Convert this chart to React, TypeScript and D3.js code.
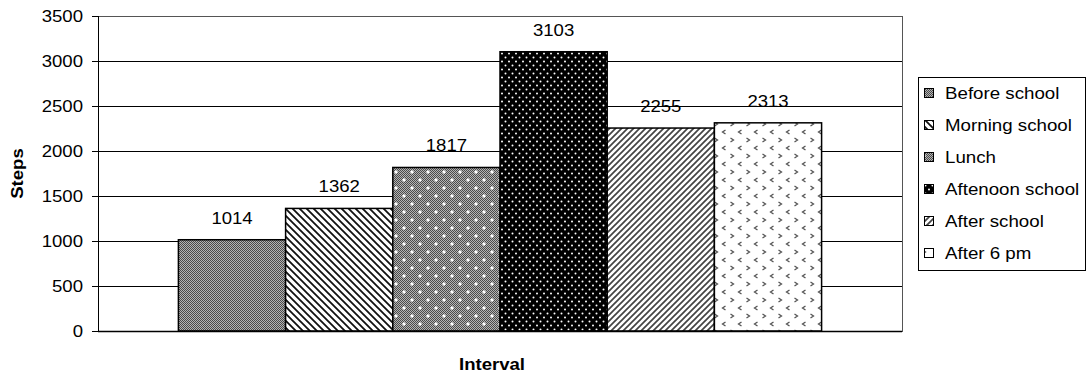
import React from "react";
import * as d3 from "d3";

const seriesNames = ["Before school", "Morning school", "Lunch", "Aftenoon school", "After school", "After 6 pm"];
const seriesValues = [1014, 1362, 1817, 3103, 2255, 2313];
const categories = ["Interval"];
const yTicks = [0, 500, 1000, 1500, 2000, 2500, 3000, 3500];
const patternIds = ["pBefore", "pMorning", "pLunch", "pAfternoon", "pAfter", "p6pm"];

const W = 1091;
const H = 379;
const plot = { left: 98, right: 902, top: 16, bottom: 331 };
const FONT = "'Liberation Sans', Arial, sans-serif";
const SX = 1.16;

export default function App() {
  const y = d3.scaleLinear().domain([0, 3500]).range([plot.bottom, plot.top]);
  const xCat = d3.scaleBand().domain(categories).range([plot.left, plot.right]).paddingOuter(0.125).paddingInner(0);
  const xSer = d3.scaleBand().domain(seriesNames).range([0, xCat.bandwidth()]).padding(0);
  const cat = categories[0];

  const chevron = (cx: number, cy: number, dir: number) =>
    `M${cx + dir * 1.5},${cy - 2} L${cx - dir * 1.5},${cy} L${cx + dir * 1.5},${cy + 2}`;

  return (
    <svg width={W} height={H} style={{ position: "absolute", left: 0, top: 0, fontFamily: FONT }}>
      <defs>
        <pattern id="pBefore" width={2} height={2} patternUnits="userSpaceOnUse">
          <rect width={2} height={2} fill="#b4b4b4" />
          <rect x={0} y={0} width={1} height={1} fill="#4a4a4a" />
          <rect x={1} y={1} width={1} height={1} fill="#4a4a4a" />
        </pattern>
        <pattern id="pMorning" width={7} height={7} patternUnits="userSpaceOnUse">
          <rect width={7} height={7} fill="#fff" />
          <path d="M-1,-1 L8,8 M-8,-1 L1,8 M6,-1 L15,8" stroke="#111" strokeWidth={1.8} />
        </pattern>
        <pattern id="pLunch" width={16} height={16} patternUnits="userSpaceOnUse">
          <rect width={16} height={16} fill="url(#pBefore)" />
          <rect x={3} y={3} width={2} height={2} fill="#fff" />
          <rect x={11} y={11} width={2} height={2} fill="#fff" />
          <rect x={3.5} y={2} width={1} height={4} fill="#fff" />
          <rect x={2} y={3.5} width={4} height={1} fill="#fff" />
          <rect x={11.5} y={10} width={1} height={4} fill="#fff" />
          <rect x={10} y={11.5} width={4} height={1} fill="#fff" />
        </pattern>
        <pattern id="pAfternoon" width={7} height={8} patternUnits="userSpaceOnUse">
          <rect width={7} height={8} fill="#000" />
          <circle cx={1.5} cy={1.5} r={1} fill="#fff" />
          <circle cx={5} cy={5.5} r={1} fill="#fff" />
        </pattern>
        <pattern id="pAfter" width={6} height={6} patternUnits="userSpaceOnUse">
          <rect width={6} height={6} fill="#fff" />
          <path d="M-1,7 L7,-1 M-7,7 L1,-1 M5,7 L13,-1" stroke="#444" strokeWidth={1.7} />
        </pattern>
        <pattern id="p6pm" width={16} height={16} patternUnits="userSpaceOnUse">
          <rect width={16} height={16} fill="#fff" />
          <path d={chevron(4, 4, 1)} stroke="#555" strokeWidth={1.3} fill="none" />
          <path d={chevron(12, 12, -1)} stroke="#555" strokeWidth={1.3} fill="none" />
        </pattern>
      </defs>

      {/* gridlines */}
      {yTicks.map((t) => (
        <line key={"g" + t} x1={plot.left} x2={plot.right} y1={Math.round(y(t)) + 0.5} y2={Math.round(y(t)) + 0.5} stroke="#000" strokeWidth={1} />
      ))}
      {/* plot border */}
      <rect x={plot.left + 0.5} y={plot.top + 0.5} width={plot.right - plot.left} height={plot.bottom - plot.top} fill="none" stroke="#555" strokeWidth={1} />

      {/* bars */}
      {seriesNames.map((s, i) => {
        const x0 = (xCat(cat) as number) + (xSer(s) as number);
        const yv = y(seriesValues[i]);
        return (
          <g key={s}>
            <rect x={x0} y={yv} width={xSer.bandwidth()} height={y(0) - yv} fill={`url(#${patternIds[i]})`} stroke="#000" strokeWidth={1.5} />
            <text transform={`translate(${x0 + xSer.bandwidth() / 2},${yv - 16}) scale(${SX},1)`} textAnchor="middle" fontSize={16} fill="#000">
              {seriesValues[i]}
            </text>
          </g>
        );
      })}

      {/* y axis */}
      <line x1={plot.left + 0.5} x2={plot.left + 0.5} y1={plot.top} y2={plot.bottom + 1} stroke="#000" strokeWidth={1} />
      {yTicks.map((t) => (
        <g key={"t" + t}>
          <line x1={plot.left - 6} x2={plot.left} y1={Math.round(y(t)) + 0.5} y2={Math.round(y(t)) + 0.5} stroke="#000" />
          <text transform={`translate(83,${y(t)}) scale(${SX},1)`} dy="0.36em" textAnchor="end" fontSize={16} fill="#000">
            {t}
          </text>
        </g>
      ))}
      <line x1={plot.left} x2={plot.right} y1={plot.bottom + 0.5} y2={plot.bottom + 0.5} stroke="#000" strokeWidth={1.5} />

      {/* axis titles */}
      <text transform={`translate(23,${(plot.top + plot.bottom) / 2}) rotate(-90) scale(${SX},1)`} textAnchor="middle" fontSize={16} fontWeight="bold" fill="#000">
        Steps
      </text>
      <text transform={`translate(492,370) scale(${SX},1)`} textAnchor="middle" fontSize={16} fontWeight="bold" fill="#000">
        Interval
      </text>

      {/* legend */}
      <rect x={918.5} y={77.5} width={167} height={193} fill="#fff" stroke="#000" strokeWidth={1} />
      {seriesNames.map((s, i) => {
        const cy = 93 + i * 32;
        return (
          <g key={"l" + s}>
            <rect x={924.5} y={cy - 4.5} width={9} height={9} fill={`url(#${patternIds[i]})`} stroke="#000" strokeWidth={1} />
            <text transform={`translate(945,${cy}) scale(1.17,1)`} dy="0.36em" fontSize={16} fill="#000">
              {s}
            </text>
          </g>
        );
      })}
    </svg>
  );
}
